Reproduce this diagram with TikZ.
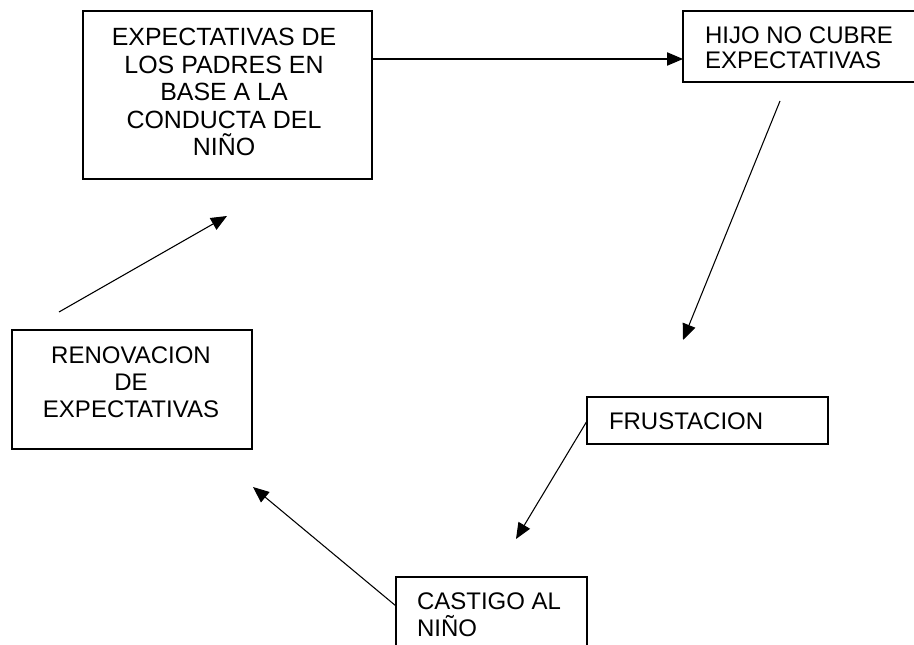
\documentclass[tikz,border=0pt]{standalone}
\usepackage{fontspec}
\setmainfont{Liberation Sans}
\usetikzlibrary{arrows.meta}
\tikzset{
  box/.style={draw=black, line width=1.1pt, rectangle, inner sep=0pt, outer sep=0pt},
  lbl/.style={inner sep=0pt, outer sep=0pt, font=\fontsize{18pt}{20.6pt}\selectfont},
  conn/.style={draw=black, line width=0.8pt, -{Triangle[length=12pt,width=10pt]}}
}
\begin{document}
\begin{tikzpicture}[x=0.75pt,y=-0.75pt]
\useasboundingbox (0,0) rectangle (914,645);
\fill[white] (0,0) rectangle (914,645);
\clip (0,0) rectangle (914,645);
% boxes
\node[box, minimum width=216.75pt, minimum height=126pt] (b1) at (227.5,95) {};
\node[box, minimum width=185.25pt, minimum height=53.25pt] (b2) at (806.5,46.5) {};
\node[box, minimum width=180.75pt, minimum height=35.25pt] (b3) at (707.5,420.5) {};
\node[box, minimum width=143.25pt, minimum height=69.75pt] (b4) at (491.5,623.5) {};
\node[box, minimum width=180pt, minimum height=89.25pt] (b5) at (132,389.5) {};
% texts
\node[lbl, align=center, anchor=center, font=\fontsize{18.7pt}{20.6pt}\selectfont] (t1) at (224,92) {EXPECTATIVAS DE\\LOS PADRES EN\\BASE A LA\\CONDUCTA DEL\\NIÑO};
\node[lbl, align=left, anchor=north west, font=\fontsize{18pt}{18.75pt}\selectfont] (t2) at (705,27) {HIJO NO CUBRE\\EXPECTATIVAS};
\node[lbl, anchor=north west] (t3) at (609,413) {FRUSTACION};
\node[lbl, align=left, anchor=north west, font=\fontsize{18pt}{20.25pt}\selectfont] (t4) at (417,593) {CASTIGO AL\\NIÑO};
\node[lbl, align=center, anchor=center, font=\fontsize{18pt}{20.25pt}\selectfont] (t5) at (131,382) {RENOVACION\\DE\\EXPECTATIVAS};
% connector endpoints
\coordinate (a1s) at (b1.east |- 0,59);
\coordinate (a1e) at (b2.west |- 0,59);
\coordinate (a2s) at (780,101);
\coordinate (a2e) at (683,340);
\coordinate (a3s) at (b3.west |- 0,421);
\coordinate (a3e) at (516,539);
\coordinate (a4s) at (b4.west |- 0,606);
\coordinate (a4e) at (253,487);
\coordinate (a5s) at (59,312);
\coordinate (a5e) at (227,216);
% connectors
\draw[conn] (a1s) -- (a1e);
\draw[conn] (a2s) -- (a2e);
\draw[conn] (a3s) -- (a3e);
\draw[conn] (a4s) -- (a4e);
\draw[conn] (a5s) -- (a5e);
\end{tikzpicture}
\end{document}
